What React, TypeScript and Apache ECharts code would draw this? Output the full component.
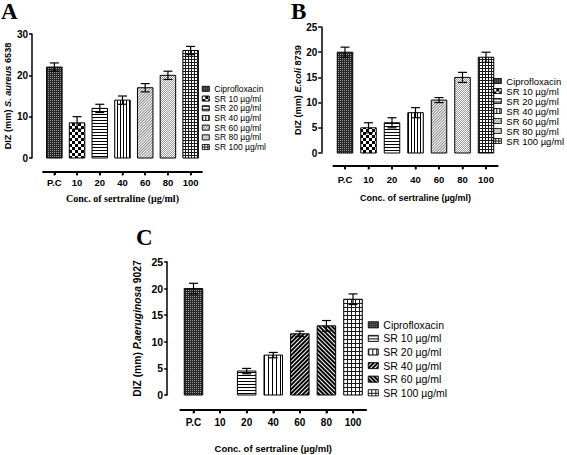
import React, { useEffect, useRef } from 'react';
import * as echarts from 'echarts';

// ---------- data ----------
const categories = ['P.C', '10', '20', '40', '60', '80', '100'];

const valuesA = [22, 8.5, 12, 14, 17, 20, 26];
const errorsA = [1, 1.5, 1, 1, 1, 1, 1];

const valuesB = [20, 5, 6, 8, 10.5, 15, 19];
const errorsB = [1, 1, 1, 1, 0.5, 1, 1];

const valuesC = [20, null, 4.5, 7.5, 11.5, 13, 18];
const errorsC = [1, null, 0.5, 0.5, 0.5, 1, 1];

const legendAB = ['Ciprofloxacin', 'SR 10 µg/ml', 'SR 20 µg/ml', 'SR 40 µg/ml', 'SR 60 µg/ml', 'SR 80 µg/ml', 'SR 100 µg/ml'];
const legendC = ['Ciprofloxacin', 'SR 10 µg/ml', 'SR 20 µg/ml', 'SR 40 µg/ml', 'SR 60 µg/ml', 'SR 100 µg/ml'];
// category index filled by each legend entry
const barsAB = [0, 1, 2, 3, 4, 5, 6];
const barsC = [0, 2, 3, 4, 5, 6];

const yTicksA = [0, 10, 20, 30];
const yTicksB = [0, 5, 10, 15, 20, 25];
const yTicksC = [0, 5, 10, 15, 20, 25];

const xTitle = 'Conc. of sertraline (µg/ml)';
const yTitleA = ['DIZ (mm) ', 'S. aureus', ' 6538'];
const yTitleB = ['DIZ (mm) ', 'E.coli', ' 8739'];
const yTitleC = ['DIZ (mm) ', 'P.aeruginosa', ' 9027'];

// ---------- styles ----------
const SANS = 'Liberation Sans';
const SERIF = 'Liberation Serif';
const dk = (o: any) => ({ symbol: 'rect', symbolSize: 1, ...o });

const decalDots = dk({ color: '#9a9a9a', backgroundColor: '#262626', dashArrayX: [1, 1], dashArrayY: [1, 1] });
const decalChecker = dk({ color: '#000', backgroundColor: '#fff', dashArrayX: [[3, 3], [0, 3, 3, 0]], dashArrayY: [3, 0] });
const decalHoriz = dk({ color: '#000', backgroundColor: '#fff', dashArrayX: [[4, 0]], dashArrayY: [1, 2] });
const decalVert = dk({ color: '#000', backgroundColor: '#fff', dashArrayX: [1, 2], dashArrayY: [4, 0] });
const decalVertWide = dk({ color: '#000', backgroundColor: '#fff', dashArrayX: [1, 3], dashArrayY: [4, 0] });
const decalLightDiag = dk({ color: '#8a8a8a', backgroundColor: '#fff', dashArrayX: [1, 1], dashArrayY: [4, 0], rotation: Math.PI / 4 });
const decalLightDots = dk({ color: '#9a9a9a', backgroundColor: '#fff', dashArrayX: [[1, 1], [0, 1, 1, 0]], dashArrayY: [1, 0] });
const decalGrid = dk({ color: '#fff', backgroundColor: '#1a1a1a', dashArrayX: [2, 1], dashArrayY: [2, 1] });
const decalGridC = dk({ color: '#fff', backgroundColor: '#1a1a1a', dashArrayX: [3, 1], dashArrayY: [3, 1] });
const decalDarkDiag1 = dk({ color: '#000', backgroundColor: '#fff', dashArrayX: [2, 1], dashArrayY: [4, 0], rotation: Math.PI / 4 });
const decalDarkDiag2 = dk({ color: '#000', backgroundColor: '#fff', dashArrayX: [2, 1], dashArrayY: [4, 0], rotation: -Math.PI / 4 });

const decalsAB = [decalDots, decalChecker, decalHoriz, decalVert, decalLightDiag, decalLightDots, decalGrid];
const decalsC = [decalDots, decalHoriz, decalVertWide, decalDarkDiag1, decalDarkDiag2, decalGridC];

type Panel = {
  key: string;
  values: (number | null)[];
  errors: (number | null)[];
  names: string[];
  bars: number[];
  decals: any[];
  yTicks: number[];
  yTitle: string[];
  grid: { left: number; right: number; top: number; bottom: number };
  barWidth: number;
  xOffset: number;
  yOffset: number;
  tickFont: number;
  xLabelMargin: number;
  xNameGap: number;
  xNameFont: number;
  xNameFamily: string;
  yNameGap: number;
  yNameFont: number;
  legend: { left: number; top: number; itemWidth: number; itemHeight: number; fontSize: number; lineHeight: number };
};

const W = 567;
const H = 455;

const panels: Panel[] = [
  {
    key: 'A', values: valuesA, errors: errorsA, names: legendAB, bars: barsAB, decals: decalsAB,
    yTicks: yTicksA, yTitle: yTitleA,
    grid: { left: 43, right: W - 202, top: 34, bottom: H - 158 },
    barWidth: 15.5, xOffset: 14, yOffset: 11, tickFont: 9.5, xLabelMargin: 5, xNameGap: 21,
    xNameFont: 10, xNameFamily: SERIF, yNameGap: 17, yNameFont: 9.2,
    legend: { left: 202, top: 84, itemWidth: 7, itemHeight: 5, fontSize: 8.5, lineHeight: 9.7 },
  },
  {
    key: 'B', values: valuesB, errors: errorsB, names: legendAB, bars: barsAB, decals: decalsAB,
    yTicks: yTicksB, yTitle: yTitleB,
    grid: { left: 333.25, right: W - 497.75, top: 27, bottom: H - 153 },
    barWidth: 15.5, xOffset: 13, yOffset: 12, tickFont: 9.5, xLabelMargin: 8, xNameGap: 27,
    xNameFont: 9, xNameFamily: SANS, yNameGap: 17, yNameFont: 9.2,
    legend: { left: 493, top: 76, itemWidth: 8, itemHeight: 5, fontSize: 9.5, lineHeight: 9.9 },
  },
  {
    key: 'C', values: valuesC, errors: errorsC, names: legendC, bars: barsC, decals: decalsC,
    yTicks: yTicksC, yTitle: yTitleC,
    grid: { left: 180.2, right: W - 366.3, top: 262, bottom: H - 395 },
    barWidth: 18.5, xOffset: 15, yOffset: 13, tickFont: 10, xLabelMargin: 7, xNameGap: 33,
    xNameFont: 9.5, xNameFamily: SANS, yNameGap: 25, yNameFont: 10.3,
    legend: { left: 368, top: 318, itemWidth: 10, itemHeight: 6, fontSize: 10.5, lineHeight: 13.6 },
  },
];

const letter = (t: string, x: number, y: number) => ({
  type: 'text', id: 'letter' + t, x, y, silent: true,
  style: { text: t, font: `bold 23px "${SERIF}"`, fill: '#000', verticalAlign: 'top' },
});
const letters = [letter('A', 1, 0), letter('B', 291, 0), letter('C', 136, 226)];

function buildOption() {
  const grid: any[] = [];
  const xAxis: any[] = [];
  const yAxis: any[] = [];
  const series: any[] = [];
  const legend: any[] = [];

  panels.forEach((p, i) => {
    grid.push({ ...p.grid });
    xAxis.push({
      type: 'category', gridIndex: i, data: categories, offset: p.xOffset,
      axisLine: { show: true, onZero: false, lineStyle: { color: '#000', width: 1.5 } },
      axisTick: { show: true, alignWithLabel: true, length: 3, lineStyle: { color: '#000', width: 1.5 } },
      axisLabel: { interval: 0, margin: p.xLabelMargin, color: '#000', fontWeight: 'bold', fontSize: p.tickFont, fontFamily: SANS },
      splitLine: { show: false },
      name: xTitle, nameLocation: 'middle', nameGap: p.xNameGap,
      nameTextStyle: { color: '#000', fontWeight: 'bold', fontSize: p.xNameFont, fontFamily: p.xNameFamily },
    });
    const yMax = p.yTicks[p.yTicks.length - 1];
    const yInterval = p.yTicks[1] - p.yTicks[0];
    yAxis.push({
      type: 'value', gridIndex: i, min: p.yTicks[0], max: yMax, interval: yInterval, offset: p.yOffset,
      axisLine: { show: true, onZero: false, lineStyle: { color: '#000', width: 1.5 } },
      axisTick: { show: true, length: 3, lineStyle: { color: '#000', width: 1.5 } },
      axisLabel: { margin: 4, color: '#000', fontWeight: 'bold', fontSize: p.tickFont + 0.5, fontFamily: SANS },
      splitLine: { show: false },
      name: `{n|${p.yTitle[0]}}{i|${p.yTitle[1]}}{n|${p.yTitle[2]}}`,
      nameLocation: 'middle', nameRotate: 90, nameGap: p.yNameGap,
      nameTextStyle: {
        color: '#000',
        rich: {
          n: { fontWeight: 'bold', fontSize: p.yNameFont, fontFamily: SANS, color: '#000' },
          i: { fontWeight: 'bold', fontStyle: 'italic', fontSize: p.yNameFont, fontFamily: SANS, color: '#000' },
        },
      },
    });

    const seriesNames: string[] = [];
    p.names.forEach((name, k) => {
      const sname = `${name}|${p.key}`;
      seriesNames.push(sname);
      const cat = p.bars[k];
      series.push({
        type: 'bar', name: sname, xAxisIndex: i, yAxisIndex: i,
        barWidth: p.barWidth, barGap: '-100%',
        itemStyle: { color: p.decals[k].backgroundColor, decal: p.decals[k] },
        data: categories.map((_, j) => (j === cat && p.values[j] != null ? p.values[j] : '-')),
      });
    });

    const errData: number[][] = [];
    p.values.forEach((v, j) => {
      if (v != null) errData.push([j, v, p.errors[j] as number]);
    });
    const bw = p.barWidth;
    series.push({
      type: 'custom', xAxisIndex: i, yAxisIndex: i, z: 5, silent: true, clip: false,
      encode: { x: 0, y: 1 },
      data: errData,
      renderItem: (params: any, api: any) => {
        const ci = api.value(0);
        const v = api.value(1);
        const e = api.value(2);
        const top = api.coord([ci, v]);
        const base = api.coord([ci, 0]);
        const hi = api.coord([ci, v + e]);
        const lo = api.coord([ci, v - e]);
        const x = top[0];
        const cap = 4.5;
        const ls = { stroke: '#000', lineWidth: 1.2 };
        return {
          type: 'group',
          children: [
            { type: 'rect', shape: { x: x - bw / 2, y: top[1], width: bw, height: base[1] - top[1] }, style: { fill: 'none', stroke: '#000', lineWidth: 1 } },
            { type: 'line', shape: { x1: x, y1: hi[1], x2: x, y2: lo[1] }, style: ls },
            { type: 'line', shape: { x1: x - cap, y1: hi[1], x2: x + cap, y2: hi[1] }, style: ls },
            { type: 'line', shape: { x1: x - cap, y1: lo[1], x2: x + cap, y2: lo[1] }, style: ls },
          ],
        };
      },
    });

    legend.push({
      data: seriesNames, orient: 'vertical', left: p.legend.left, top: p.legend.top,
      padding: 0, itemGap: 0, itemWidth: p.legend.itemWidth, itemHeight: p.legend.itemHeight,
      icon: 'rect', selectedMode: false,
      formatter: (n: string) => n.split('|')[0],
      itemStyle: { borderColor: '#000', borderWidth: 0.6 },
      textStyle: { color: '#000', fontSize: p.legend.fontSize, lineHeight: p.legend.lineHeight, fontFamily: SANS },
    });
  });

  // extra axis-only grids holding the detached category axis line and ticks
  panels.forEach((p, i) => {
    const axisY = H - p.grid.bottom + p.xOffset;
    grid.push({ left: p.grid.left, right: p.grid.right, top: axisY - 2, bottom: H - axisY });
    xAxis.push({
      type: 'category', gridIndex: 3 + i, data: categories, position: 'bottom',
      axisLine: { show: true, onZero: false, lineStyle: { color: '#000', width: 1.5 } },
      axisTick: { show: true, alignWithLabel: true, length: 3, lineStyle: { color: '#000', width: 1.5 } },
      axisLabel: { show: false }, splitLine: { show: false },
    });
    yAxis.push({ type: 'value', gridIndex: 3 + i, show: false, min: 0, max: 1 });
  });

  return {
    animation: false,
    grid, xAxis, yAxis, series, legend,
    graphic: letters,
  };
}

// Prism-style detached category axis: positions taken from the chart's own scales
function axisGraphics(chart: any) {
  const out: any[] = [];
  panels.forEach((p, i) => {
    const conv = (j: number) => {
      let q = chart.convertToPixel({ xAxisIndex: i, yAxisIndex: i }, [j, 0]);
      if (!q || !isFinite(q[0])) q = chart.convertToPixel({ gridIndex: i }, [j, 0]);
      return q;
    };
    const pts = categories.map((_, j) => conv(j));
    if (!pts.every((q: any) => q && isFinite(q[0]) && isFinite(q[1]))) return;
    const band = pts[1][0] - pts[0][0];
    const y = pts[0][1] + p.xOffset;
    const x0 = pts[0][0] - band / 2;
    const x1 = pts[pts.length - 1][0] + band / 2;
    out.push({ type: 'rect', id: `axl${i}`, silent: true, z: 60, shape: { x: x0, y: y - 0.75, width: x1 - x0, height: 1.5 }, style: { fill: '#000' } });
    pts.forEach((q: any, j: number) => {
      out.push({ type: 'rect', id: `axt${i}_${j}`, silent: true, z: 60, shape: { x: q[0] - 0.75, y, width: 1.5, height: 3.5 }, style: { fill: '#000' } });
    });
  });
  return out;
}

export default function App() {
  const ref = useRef<HTMLDivElement>(null);
  useEffect(() => {
    if (!ref.current) return;
    const chart = echarts.init(ref.current, null, { renderer: 'svg' });
    chart.setOption(buildOption() as any);
    try {
      chart.setOption({ graphic: [...letters, ...axisGraphics(chart)] } as any);
    } catch (e) {
      // keep the chart as it is
    }
    return () => chart.dispose();
  }, []);
  return <div ref={ref} style={{ position: 'absolute', left: 0, top: 0, width: W, height: H, background: '#fff' }} />;
}
